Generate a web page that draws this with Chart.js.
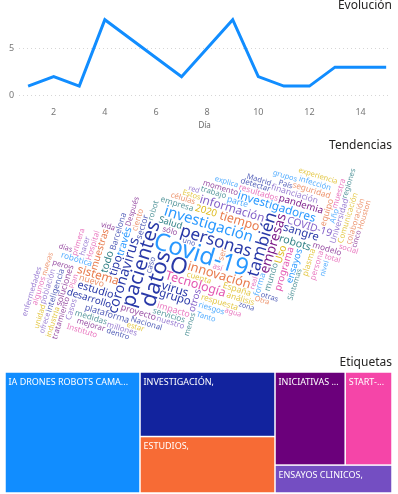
<!DOCTYPE html>
<html lang="es">
<head>
<meta charset="utf-8">
<script src="https://cdn.jsdelivr.net/npm/chart.js@4.4.1/dist/chart.umd.min.js"></script>
<style>
    html, body { margin: 0; padding: 0; background: #fff; }
    body { width: 398px; height: 494px; position: relative; overflow: hidden; font-family: "Segoe UI", "Noto Sans", sans-serif; }
    .box { position: absolute; left: 0; width: 398px; }
    .title { position: absolute; right: 6px; font-size: 12px; line-height: 14px; color: #252423; z-index: 2; }
</style>
</head>
<body>
<div class="box" style="top:0;height:134px"><canvas id="lineChart"></canvas></div>
<div class="box" style="top:152px;height:206px"><canvas id="cloudChart"></canvas></div>
<div class="box" style="top:370px;height:124px"><canvas id="treeChart"></canvas></div>
<div class="title" style="top:-2px">Evolución</div>
<div class="title" style="top:138px">Tendencias</div>
<div class="title" style="top:355px">Etiquetas</div>

<script>
// ==========================================
// Data
// ==========================================

const days = [1, 2, 3, 4, 5, 6, 7, 8, 9, 10, 11, 12, 13, 14, 15];
const dailyCounts = [1, 2, 1, 8, 6, 4, 2, 5, 8, 2, 1, 1, 3, 3, 3];
const dayTicks = [2, 4, 6, 8, 10, 12, 14];
const countTicks = [0, 5];

const cloudWords = [
    'Covid-19', 'O', 'datos', 'pacientes', 'personas', 'también', 'investigación', 'coronavirus',
    'empresas', 'Tecnología', 'innovación', 'tiempo', 'virus', 'investigadores', 'información', 'sistema',
    'grupo', 'sangre', 'tipo', 'estudio', 'robots', 'COVID-19', 'Uso', 'todo', 'través',
    'desarrollo', 'muestras', 'pandemia', 'programa', 'otros', '2020', 'Salud', 'ensayos',
    'plataforma', 'nuevo', 'proyecto', 'impacto', 'financiación', 'España', 'mundo', 'parte',
    'sector', 'equipo', 'soluciones',
    'resultados', 'Universidad', 'respuesta', 'medidas', 'robótica', 'Barcelona', 'seguridad', 'modelo',
    'Hospital', 'Casos', 'Comunicación', 'servicios', 'forma', 'inteligencia', 'ciento', 'tratamiento',
    'muestra', 'población', 'plasma', 'empresa', 'riesgos', 'Nacional', 'colaboración', 'mejorar',
    'persona', 'millones', 'análisis', 'trabajo', 'infección', 'detectar', 'células', 'momento',
    'algunos', 'nuestro', 'cuenta', 'robot', 'Año', 'caso', 'ser', 'sólo', 'Instituto',
    'hacer', 'industria', 'convalecient', 'Tanto', 'País', 'Houston', 'pero', 'real',
    'enfermedades', 'experiencia', 'Síntomas', 'ayudar', 'Madrid', 'embargo', 'Después', 'primera',
    'ofrece', 'estar', 'regiones', 'grupos', 'uno', 'Otra', 'vida', 'así',
    'Según', 'Estos', 'mede', 'explica', 'dentro', 'nuevas', 'coronavirus.', 'total',
    'negocios', 'unidad', 'menos', 'nivel', 'otras', 'podría', 'cinco', 'Plan',
    'tecnológico', 'centro', 'política', 'estudios', '&nbsp;&nbsp;&nbsp;&nbsp;Boletines', 'Además', 'medio', 'social',
    'número', 'ayuda', 'sanitario', 'hospitales', 'vacuna', 'pruebas', 'profesionales', 'médicos',
    'gobierno', 'mercado', 'digital', 'mayor', 'producción', 'crisis', 'trabajadores', 'aplicación',
    'artificial', 'drones', 'temperatura', 'control', 'ahora', 'manera', 'días', 'China',
    'Europa', 'posible', 'ciencia', 'laboratorio', 'fase', 'clínicos', 'riesgo', 'sanitarios',
    'proceso', 'calidad', 'objetivo', 'acceso', 'zona', 'casa', 'Francia', 'agua',
    'red', 'tecnologías', 'futuro', 'necesidad', 'diferentes', 'Ministerio', 'acuerdo', 'semanas'
];
const cloudCounts = [
    50, 46, 44, 38, 30, 30, 24, 22,
    20, 17, 18, 17, 16, 15, 15, 15,
    14, 14, 14, 12, 12, 11, 11, 11, 11,
    9, 9, 9, 9, 9, 9, 8, 8,
    7, 7, 7, 7, 6, 6, 6, 6,
    6, 6, 6,
    5, 5, 5, 5, 5, 5, 5, 5,
    4, 4, 4, 5, 5, 5, 4, 4,
    4, 4, 5, 5, 4, 4, 4, 4,
    4, 4, 5, 4, 4, 4, 4, 4,
    4, 4, 4, 4, 4, 4, 5, 4, 4,
    3, 3, 2, 3, 3, 3, 3, 2,
    3, 3, 3, 2, 3, 2, 3, 3,
    2, 3, 3, 3, 2, 2, 3, 3,
    2, 3, 2, 3, 3, 2, 3, 3,
    2, 3, 3, 2, 3, 3, 2, 2,
    3, 3, 2, 3, 3, 2, 2, 3,
    2, 3, 2, 2, 2, 2, 2, 2,
    2, 2, 2, 2, 2, 2, 2, 2,
    2, 2, 2, 2, 2, 2, 2, 2,
    2, 2, 2, 2, 2, 2, 2, 2,
    2, 2, 2, 2, 2, 2, 2, 2,
    2, 2, 2, 2, 2, 2, 2, 2
];

const tagLabels = ['IA DRONES ROBOTS CAMARAS TERMICAS,', 'INVESTIGACIÓN,', 'ESTUDIOS,', 'INICIATIVAS SOLIDARIAS,', 'START-UPS,', 'ENSAYOS CLINICOS,'];
const tagCounts = [15, 8, 7, 6, 4, 3];

// ==========================================
// Styles
// ==========================================

const FONT = '"Segoe UI", "Noto Sans", sans-serif';
const palette = ['#118DFF', '#12239E', '#E66C37', '#6B007B', '#E044A7', '#744EC2', '#D9B300', '#197278'];
const tilePalette = ['#118DFF', '#12239E', '#F76B35', '#6B007B', '#F545A8', '#744EC2'];
const wordColours = {
    'Covid-19': '#118DFF', 'O': '#12239E', 'datos': '#12239E', 'pacientes': '#12239E',
    'personas': '#12239E', 'también': '#12239E', 'investigación': '#118DFF', 'coronavirus': '#12239E',
    'empresas': '#6B007B', 'Tecnología': '#E044A7', 'innovación': '#E66C37', 'tiempo': '#E66C37',
    'virus': '#12239E', 'investigadores': '#118DFF', 'información': '#744EC2', 'sistema': '#E66C37',
    'grupo': '#12239E', 'sangre': '#12239E', 'tipo': '#12239E', 'estudio': '#12239E', 'robots': '#197278'
};
const verticalWords = ['pacientes', 'datos', 'también', 'coronavirus', 'empresas', 'tipo', 'través', 'Barcelona', 'industria', 'Comunicación', 'inteligencia', 'forma', 'Hospital'];

Chart.defaults.font.family = FONT;
Chart.defaults.animation = false;

// ==========================================
// Line chart - Evolución
// ==========================================

new Chart(document.getElementById('lineChart'), {
    type: 'line',
    data: {
        datasets: [{
            data: days.map((d, i) => ({ x: d, y: dailyCounts[i] })),
            borderColor: '#118DFF',
            borderWidth: 3,
            pointRadius: 0,
            tension: 0,
            fill: false
        }]
    },
    options: {
        responsive: true,
        maintainAspectRatio: false,
        layout: { padding: { top: 15, left: 4, right: 8, bottom: 3 } },
        plugins: { legend: { display: false }, tooltip: { enabled: false } },
        scales: {
            x: {
                type: 'linear',
                min: 0.65,
                max: 15.15,
                afterBuildTicks: axis => { axis.ticks = dayTicks.map(v => ({ value: v })); },
                grid: { display: false },
                border: { display: false },
                ticks: { color: '#777', font: { size: 9 }, padding: 3, maxRotation: 0 },
                title: { display: true, text: 'Día', color: '#666', font: { size: 8 }, padding: { top: 1, bottom: 0 } }
            },
            y: {
                min: 0,
                max: 8.5,
                afterBuildTicks: axis => { axis.ticks = countTicks.map(v => ({ value: v })); },
                grid: { color: '#d6d6d6', drawTicks: false },
                border: { display: false, dash: [1, 3] },
                ticks: { color: '#777', font: { size: 9 }, padding: 5 }
            }
        }
    }
});

// ==========================================
// Word cloud - Tendencias
// ==========================================

const CELL = 2;

function fontFor(size) {
    return size.toFixed(1) + 'px ' + FONT;
}

function hashWord(text) {
    let h = 7;
    for (let i = 0; i < text.length; i++) h = (h * 31 + text.charCodeAt(i)) % 9973;
    return h;
}

function wordMask(text, size, angle) {
    const c = document.createElement('canvas');
    const g = c.getContext('2d', { willReadFrequently: true });
    g.font = fontFor(size);
    const w = g.measureText(text).width;
    const h = size * 1.4;
    const ca = Math.abs(Math.cos(angle)), sa = Math.abs(Math.sin(angle));
    const bw = Math.ceil(w * ca + h * sa) + 2;
    const bh = Math.ceil(w * sa + h * ca) + 2;
    c.width = bw;
    c.height = bh;
    g.font = fontFor(size);
    g.textAlign = 'center';
    g.textBaseline = 'middle';
    g.translate(bw / 2, bh / 2);
    g.rotate(angle);
    g.fillText(text, 0, 0);
    const px = g.getImageData(0, 0, bw, bh).data;
    const cw = Math.ceil(bw / CELL), ch = Math.ceil(bh / CELL);
    const cells = new Uint8Array(cw * ch);
    for (let y = 0; y < bh; y++) {
        for (let x = 0; x < bw; x++) {
            if (px[(y * bw + x) * 4 + 3] > 30) cells[((y / CELL) | 0) * cw + ((x / CELL) | 0)] = 1;
        }
    }
    const pts = [];
    for (let i = 0; i < cells.length; i++) if (cells[i]) pts.push(i % cw, (i / cw) | 0);
    return { pts, bw, bh, cw, ch };
}

function layoutCloud(chart) {
    const area = chart.chartArea;
    const cx = chart.scales.x.getPixelForValue(0.5);
    const cy = chart.scales.y.getPixelForValue(0.5);
    const gw = Math.ceil((area.right - area.left) / CELL);
    const gh = Math.ceil((area.bottom - area.top) / CELL);
    const occ = new Uint8Array(gw * gh);
    const tilt = -17 * Math.PI / 180;
    const ratio = 0.36;
    const maxR = 176;
    const order = cloudWords.map((w, i) => i).sort((a, b) => cloudCounts[b] - cloudCounts[a] || a - b);
    const placed = [];

    order.forEach((i, rank) => {
        const text = cloudWords[i];
        const size = 6.5 + 0.35 * cloudCounts[i];
        const vertical = verticalWords.includes(text) || (!wordColours[text] && hashWord(text) % 10 < 4);
        const angle = (vertical ? -73 : 17) * Math.PI / 180;
        const m = wordMask(text, size, angle);
        const hw = m.cw >> 1, hh = m.ch >> 1;
        const start = rank * 2.39996;

        for (let r = 0; r <= maxR; r += CELL) {
            const n = r === 0 ? 1 : Math.ceil(r * 2.2);
            for (let k = 0; k < n; k++) {
                const t = start + 2 * Math.PI * k / n;
                const ex = r * Math.cos(t), ey = r * ratio * Math.sin(t);
                const px = cx + ex * Math.cos(tilt) - ey * Math.sin(tilt);
                const py = cy + ex * Math.sin(tilt) + ey * Math.cos(tilt);
                const gx = Math.round((px - area.left) / CELL) - hw;
                const gy = Math.round((py - area.top) / CELL) - hh;
                let ok = true;
                for (let p = 0; p < m.pts.length; p += 2) {
                    const x = gx + m.pts[p], y = gy + m.pts[p + 1];
                    if (x < 0 || y < 0 || x >= gw || y >= gh || occ[y * gw + x]) { ok = false; break; }
                }
                if (!ok) continue;
                for (let p = 0; p < m.pts.length; p += 2) occ[(gy + m.pts[p + 1]) * gw + gx + m.pts[p]] = 1;
                placed.push({
                    text, size, angle,
                    x: area.left + gx * CELL + m.bw / 2,
                    y: area.top + gy * CELL + m.bh / 2,
                    colour: wordColours[text] || palette[i % palette.length]
                });
                return;
            }
        }
    });
    return placed;
}

const wordCloudPlugin = {
    id: 'wordCloud',
    afterDatasetsDraw(chart) {
        if (!chart.$words) chart.$words = layoutCloud(chart);
        const ctx = chart.ctx;
        chart.$words.forEach(w => {
            ctx.save();
            ctx.globalAlpha = w.size < 9 ? 0.72 : 0.9;
            ctx.fillStyle = w.colour;
            ctx.font = fontFor(w.size);
            ctx.textAlign = 'center';
            ctx.textBaseline = 'middle';
            ctx.translate(w.x, w.y);
            ctx.rotate(w.angle);
            ctx.fillText(w.text, 0, 0);
            ctx.restore();
        });
    }
};

new Chart(document.getElementById('cloudChart'), {
    type: 'scatter',
    data: { datasets: [{ data: [] }] },
    options: {
        responsive: true,
        maintainAspectRatio: false,
        layout: { padding: 0 },
        plugins: { legend: { display: false }, tooltip: { enabled: false } },
        scales: {
            x: { display: false, min: 0, max: 1 },
            y: { display: false, min: 0, max: 1 }
        }
    },
    plugins: [wordCloudPlugin]
});

// ==========================================
// Treemap - Etiquetas
// ==========================================

// squarified layout with golden ratio target (same rule as d3.treemapSquarify)
function squarify(values, x0, y0, x1, y1) {
    const phi = (1 + Math.sqrt(5)) / 2;
    const rects = [];
    const n = values.length;
    let value = values.reduce((a, b) => a + b, 0);
    let i0 = 0, i1 = 0;
    while (i0 < n) {
        const dx = x1 - x0, dy = y1 - y0;
        let sum = values[i1++];
        let minV = sum, maxV = sum;
        const alpha = Math.max(dy / dx, dx / dy) / (value * phi);
        let beta = sum * sum * alpha;
        let minRatio = Math.max(maxV / beta, beta / minV);
        for (; i1 < n; ++i1) {
            const v = values[i1];
            sum += v;
            if (v < minV) minV = v;
            if (v > maxV) maxV = v;
            beta = sum * sum * alpha;
            const newRatio = Math.max(maxV / beta, beta / minV);
            if (newRatio > minRatio) { sum -= v; break; }
            minRatio = newRatio;
        }
        if (dx < dy) {
            const yb = y0 + dy * sum / value;
            let x = x0;
            for (let i = i0; i < i1; i++) {
                const w = dx * values[i] / sum;
                rects.push({ i, x0: x, y0: y0, x1: x + w, y1: yb });
                x += w;
            }
            y0 = yb;
        } else {
            const xb = x0 + dx * sum / value;
            let y = y0;
            for (let i = i0; i < i1; i++) {
                const h = dy * values[i] / sum;
                rects.push({ i, x0: x0, y0: y, x1: xb, y1: y + h });
                y += h;
            }
            x0 = xb;
        }
        value -= sum;
        i0 = i1;
    }
    return rects;
}

function fitLabel(ctx, text, maxWidth) {
    if (ctx.measureText(text).width <= maxWidth) return text;
    let s = text;
    while (s.length > 1 && ctx.measureText(s + '...').width > maxWidth) s = s.slice(0, -1);
    return s + '...';
}

const treemapPlugin = {
    id: 'treemap',
    afterDatasetsDraw(chart) {
        const xs = chart.scales.x, ys = chart.scales.y;
        const rects = squarify(tagCounts, xs.getPixelForValue(0), ys.getPixelForValue(1), xs.getPixelForValue(1), ys.getPixelForValue(0));
        const ctx = chart.ctx;
        rects.forEach(r => {
            ctx.fillStyle = tilePalette[r.i % tilePalette.length];
            ctx.fillRect(r.x0 + 0.75, r.y0 + 0.75, r.x1 - r.x0 - 1.5, r.y1 - r.y0 - 1.5);
            ctx.save();
            ctx.fillStyle = '#ffffff';
            ctx.font = '9px ' + FONT;
            ctx.textAlign = 'left';
            ctx.textBaseline = 'middle';
            ctx.fillText(fitLabel(ctx, tagLabels[r.i], r.x1 - r.x0 - 10), r.x0 + 3.5, r.y0 + 10);
            ctx.restore();
        });
    }
};

new Chart(document.getElementById('treeChart'), {
    type: 'scatter',
    data: { datasets: [{ data: [] }] },
    options: {
        responsive: true,
        maintainAspectRatio: false,
        layout: { padding: { left: 5, right: 6, top: 2, bottom: 1 } },
        plugins: { legend: { display: false }, tooltip: { enabled: false } },
        scales: {
            x: { display: false, min: 0, max: 1 },
            y: { display: false, min: 0, max: 1 }
        }
    },
    plugins: [treemapPlugin]
});
</script>
</body>
</html>
